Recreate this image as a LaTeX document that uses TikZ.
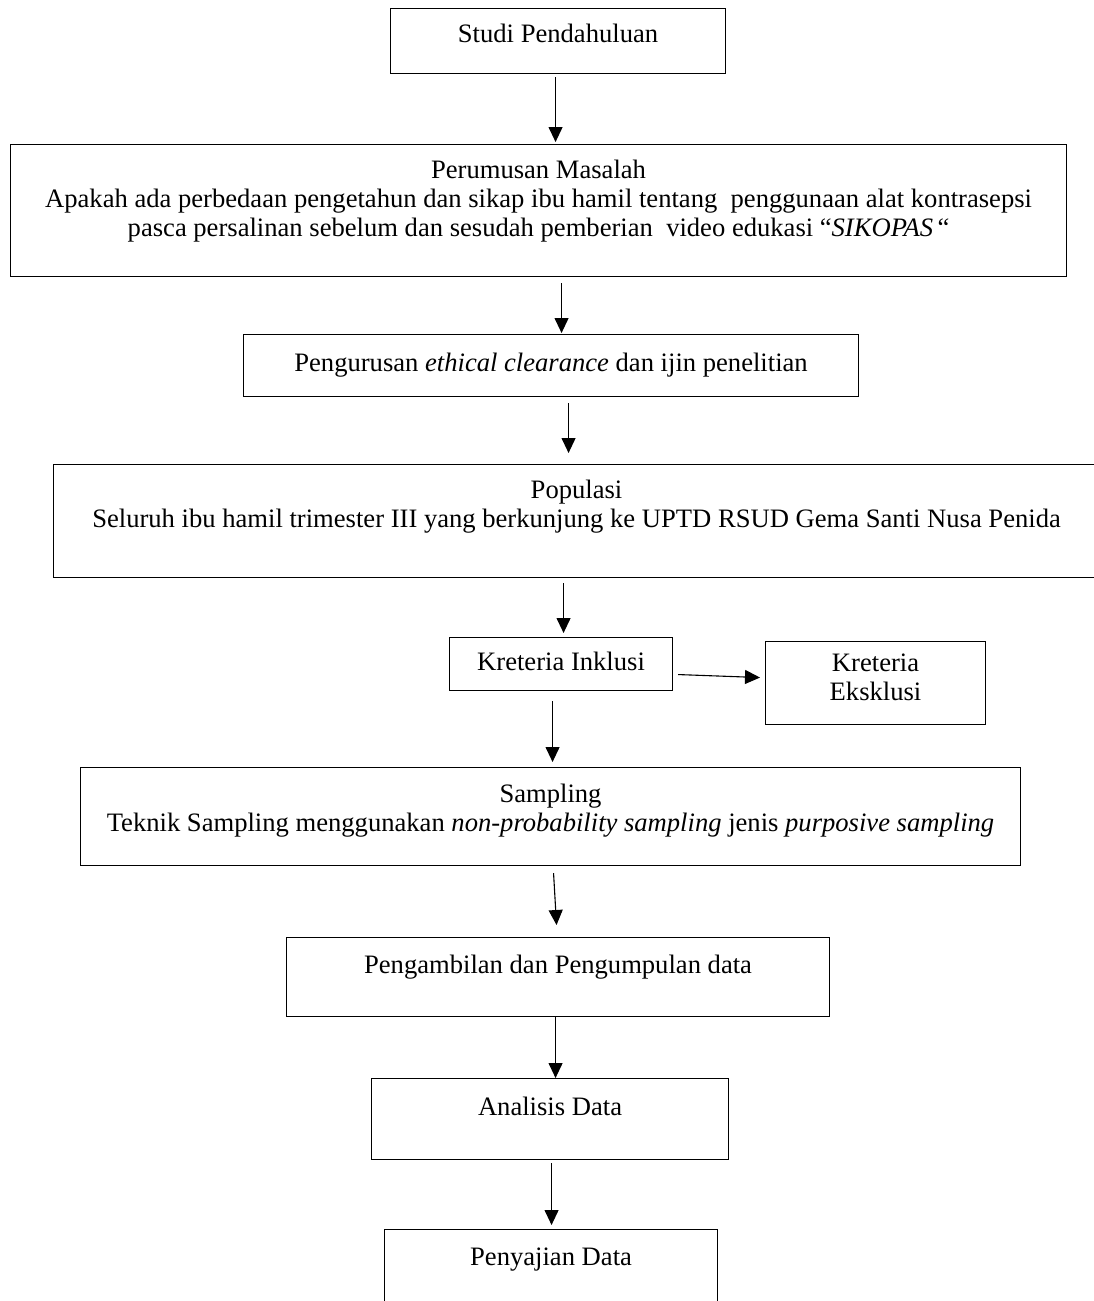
\documentclass[tikz,border=0pt]{standalone}
\usepackage{fontspec}
\setmainfont{Liberation Serif}
\usetikzlibrary{arrows.meta,calc}
\begin{document}
\begin{tikzpicture}[x=1pt,y=-1pt,
  box/.style={draw=black,line width=1.1pt,rectangle,inner sep=0pt,fill=none},
  txt/.style={font=\fontsize{26.6}{29}\selectfont,inner sep=0pt,align=center,anchor=north},
  arr/.style={line width=1.1pt,-{Triangle[width=14pt,length=15pt]}}]
\useasboundingbox (0,0) rectangle (1094,1301);
\clip (0,0) rectangle (1094,1301);
\fill[white] (0,0) rectangle (1094,1301);
% boxes
\node[box,minimum width=335pt,minimum height=65pt,anchor=north west] (b1) at (390,8) {};
\node[box,minimum width=1056pt,minimum height=132pt,anchor=north west] (b2) at (10,144) {};
\node[box,minimum width=615pt,minimum height=62pt,anchor=north west] (b3) at (243,334) {};
\node[box,minimum width=1046pt,minimum height=113pt,anchor=north west] (b4) at (53,464) {};
\node[box,minimum width=223pt,minimum height=53pt,anchor=north west] (b5) at (449,637) {};
\node[box,minimum width=220pt,minimum height=83pt,anchor=north west] (b6) at (765,641) {};
\node[box,minimum width=940pt,minimum height=98pt,anchor=north west] (b7) at (80,767) {};
\node[box,minimum width=543pt,minimum height=79pt,anchor=north west] (b8) at (286,937) {};
\node[box,minimum width=357pt,minimum height=81pt,anchor=north west] (b9) at (371,1078) {};
\node[box,minimum width=333pt,minimum height=100pt,anchor=north west] (b10) at (384,1229) {};
% texts
\node[txt] (t1) at ([yshift=-16pt]b1.north) {Studi Pendahuluan};
\node[txt] (t2) at ([yshift=-16pt]b2.north) {Perumusan Masalah\\Apakah ada perbedaan pengetahun dan sikap ibu hamil tentang\ \ penggunaan alat kontrasepsi\\pasca persalinan sebelum dan sesudah pemberian\ \ video edukasi “\textit{SIKOPAS}\,“};
\node[txt] (t3) at ([yshift=-19pt]b3.north) {Pengurusan \textit{ethical clearance} dan ijin penelitian};
\node[txt] (t4) at ([yshift=-16pt]b4.north) {Populasi\\Seluruh ibu hamil trimester III yang berkunjung ke UPTD RSUD Gema Santi Nusa Penida};
\node[txt] (t5) at ([yshift=-15pt]b5.north) {Kreteria Inklusi};
\node[txt] (t6) at ([yshift=-13pt]b6.north) {Kreteria\\Eksklusi};
\node[txt] (t7) at ([yshift=-17pt]b7.north) {Sampling\\Teknik Sampling menggunakan \textit{non-probability sampling} jenis \textit{purposive sampling}};
\node[txt] (t8) at ([yshift=-18pt]b8.north) {Pengambilan dan Pengumpulan data};
\node[txt] (t9) at ([yshift=-19pt]b9.north) {Analisis Data};
\node[txt] (t10) at ([yshift=-19pt]b10.north) {Penyajian Data};
% connectors
\draw[arr] ([xshift=-2.5pt,yshift=-3pt]b1.south) -- ([xshift=17pt,yshift=2pt]b2.north);
\draw[arr] ([xshift=23pt,yshift=-6pt]b2.south) -- ([xshift=10.5pt,yshift=1pt]b3.north);
\draw[arr] ([xshift=17.5pt,yshift=-6pt]b3.south) -- ([xshift=-8pt,yshift=11pt]b4.north);
\draw[arr] ([xshift=-13pt,yshift=-5pt]b4.south) -- ([xshift=2.5pt,yshift=4pt]b5.north);
\draw[arr] ([xshift=5pt,yshift=-10.5pt]b5.east) -- ([xshift=-5pt,yshift=5.5pt]b6.west);
\draw[arr] ([xshift=-8.5pt,yshift=-10pt]b5.south) -- ([xshift=2pt,yshift=5pt]b7.north);
\draw[arr] ([xshift=3pt,yshift=-7pt]b7.south) -- ([xshift=-1.5pt,yshift=12pt]b8.north);
\draw[arr] ([xshift=-2.5pt,yshift=0pt]b8.south) -- ([xshift=5.5pt,yshift=0pt]b9.north);
\draw[arr] ([xshift=1.5pt,yshift=-3pt]b9.south) -- ([xshift=0.5pt,yshift=4pt]b10.north);
\end{tikzpicture}
\end{document}
